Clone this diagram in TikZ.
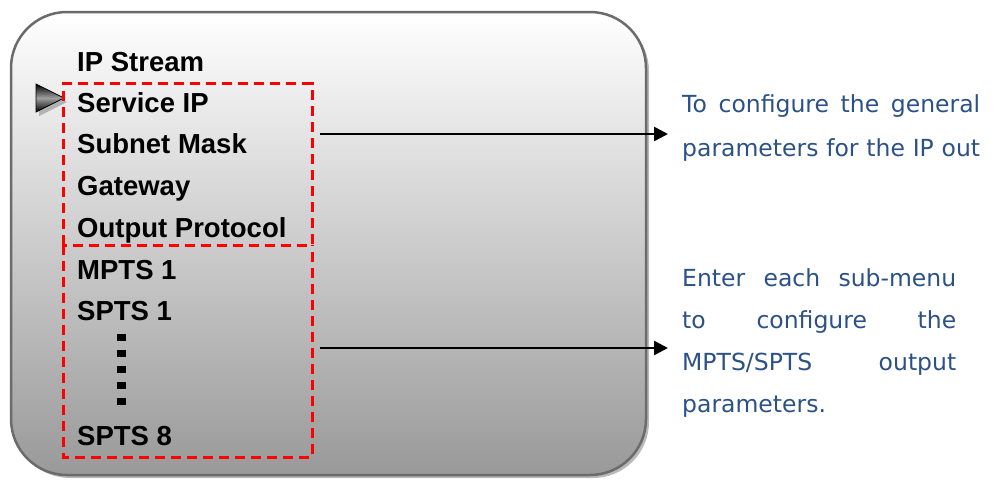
\documentclass[tikz,border=0pt]{standalone}
\usepackage{fontspec}
\setmainfont{Liberation Sans}
\newfontfamily\verd{DejaVu Sans}
\usetikzlibrary{arrows.meta,shadows}
\definecolor{txtblue}{HTML}{2B5187}
\definecolor{boxedge}{HTML}{6B6B6B}
\definecolor{boxbot}{HTML}{999999}
\begin{document}
\begin{tikzpicture}[x=1pt,y=-1pt,
  panel/.style={draw=boxedge, line width=2.5pt, rounded corners=56pt, inner sep=0pt,
    top color=white, bottom color=boxbot,
    drop shadow={shadow xshift=3pt, shadow yshift=-3pt, fill=gray!55, opacity=1}},
  menu/.style={anchor=base west, inner sep=0pt, font=\fontsize{27.5}{27.5}\selectfont\bfseries},
  reddash/.style={draw=red, line width=3pt, dash pattern=on 10pt off 6pt},
  grp/.style={inner sep=0pt},
  conn/.style={line width=2.5pt, -{Triangle[length=14pt,width=14pt]}},
  desc/.style={anchor=base west, inner sep=0pt, text=txtblue, font=\verd\fontsize{23.5}{23.5}\selectfont},
  sq/.style={fill=black}]
\useasboundingbox (0,0) rectangle (1000,479);
\node[panel, minimum width=635pt, minimum height=463pt] (box) at (328.5,243.5) {};
% pointer
\fill[gray!60] (39,88) -- (67,102) -- (39,116) -- cycle;
\shade[draw=black, line width=0.8pt, top color=black, bottom color=black, middle color=gray!75] (36,84) -- (64,98) -- (36,112) -- cycle;
% menu
\node[menu] (m0) at (77,71) {IP Stream};
\node[menu] (m1) at (77,112) {Service IP};
\node[menu] (m2) at (77,153) {Subnet Mask};
\node[menu] (m3) at (77,195) {Gateway};
\node[menu] (m4) at (77,237) {Output Protocol};
\node[menu] (m5) at (77,279) {MPTS 1};
\node[menu] (m6) at (77,320) {SPTS 1};
\node[menu] (m7) at (77,445) {SPTS 8};
\foreach \yy in {334,350,366,382,398} \fill[sq] (117,\yy) rectangle (126,\yy+7);
% dashed groups
\node[grp, minimum width=248pt, minimum height=161pt] (g1) at (188,164.5) {};
\node[grp, minimum width=248pt, minimum height=212pt] (g2) at (188,351) {};
\draw[reddash] (g1.south west) -- (g1.north west) -- (g1.north east) -- (g1.south east) -- cycle;
\draw[reddash] (g2.north west) -- (g2.south west) -- (g2.south east) -- (g2.north east);
% arrows
\coordinate (a1s) at (320,134);
\coordinate (a1e) at (668,134);
\coordinate (a2s) at (320,348);
\coordinate (a2e) at (668,348);
\draw[conn] (a1s) -- (a1e);
\draw[conn] (a2s) -- (a2e);
% descriptions
\node[desc] (d1a) at (682,112) {\makebox[298pt][s]{To configure the general}};
\node[desc] (d1b) at (682,156) {\makebox[298pt][s]{parameters for the IP out}};
\node[desc] (d2a) at (682,286) {\makebox[274pt][s]{Enter each sub-menu}};
\node[desc] (d2b) at (682,328) {\makebox[274pt][s]{to configure the}};
\node[desc] (d2c) at (682,370) {\makebox[274pt][s]{MPTS/SPTS output}};
\node[desc] (d2d) at (682,412) {parameters.};
\end{tikzpicture}
\end{document}
